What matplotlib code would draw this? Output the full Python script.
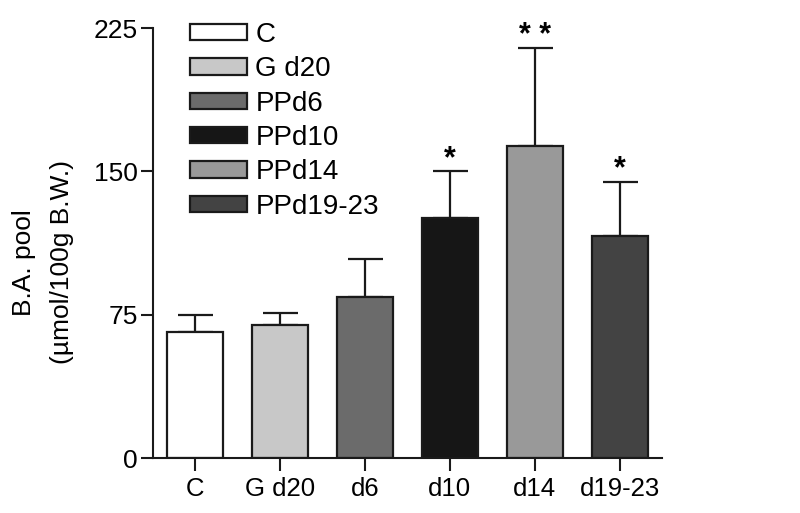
import matplotlib
matplotlib.use("Agg")
import matplotlib.pyplot as plt
from matplotlib.patches import Patch

categories = ["C", "G d20", "d6", "d10", "d14", "d19-23"]
legend_labels = ["C", "G d20", "PPd6", "PPd10", "PPd14", "PPd19-23"]
means = [66, 69.5, 84.5, 125.5, 163.5, 116]
errors = [9, 6.5, 19.5, 24.5, 51, 28.5]
signif = ["", "", "", "*", "* *", "*"]
colors = ["#ffffff", "#c8c8c8", "#6b6b6b", "#161616", "#999999", "#434343"]
yticks = [0, 75, 150, 225]

plt.rcParams['font.family'] = ['Liberation Sans', 'DejaVu Sans']

fig = plt.figure(figsize=(8, 5.13), dpi=100)
ax = fig.add_axes([153/800, 1-458/513, (662-153)/800, (458-28)/513])

x = list(range(len(categories)))
ax.bar(x, means, width=0.66, color=colors, edgecolor="#1a1a1a", linewidth=1.6, zorder=2)
ax.errorbar(x, means, yerr=[[0]*len(errors), errors], fmt="none", ecolor="#1a1a1a",
            elinewidth=1.6, capsize=12.6, capthick=1.6, zorder=1)
for xi, m, e, s in zip(x, means, errors, signif):
    if s:
        ax.annotate(s, (xi, m + e), xytext=(0, -2), textcoords="offset points",
                    ha="center", va="bottom", fontsize=22, fontweight="bold")

ax.set_xlim(-0.5, 5.5)
ax.set_ylim(0, 225)
ax.set_yticks(yticks)
ax.set_xticks(x)
ax.set_xticklabels(categories)
ax.spines["top"].set_visible(False)
ax.spines["right"].set_visible(False)
for sp in ["left", "bottom"]:
    ax.spines[sp].set_linewidth(1.5)
    ax.spines[sp].set_color("#1a1a1a")
ax.tick_params(axis="both", length=9, width=1.5, color="#1a1a1a")
ax.tick_params(axis="x", labelsize=18.5, pad=5)
ax.tick_params(axis="y", labelsize=19, pad=2)

ax.set_ylabel("B.A. pool\n(µmol/100g B.W.)", fontsize=19, linespacing=1.75)
ax.yaxis.set_label_coords(-0.155, 0.455)

handles = [Patch(facecolor=c, edgecolor="#1a1a1a", linewidth=1.6) for c in colors]
fig.legend(handles, legend_labels, loc="upper left", bbox_to_anchor=(190/800, 1-22/513),
           frameon=False, fontsize=20, handlelength=2.05, handleheight=0.54,
           handletextpad=0.3, labelspacing=0.3, borderpad=0, borderaxespad=0)

fig.savefig("out.png", dpi=100)
